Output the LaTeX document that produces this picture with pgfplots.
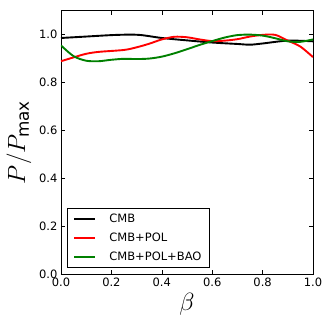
\documentclass[border=0pt]{standalone}
\usepackage{pgfplots}
\pgfplotsset{compat=1.18}
\usepackage{fontspec}
\setmainfont{DejaVu Sans}
\definecolor{mplgreen}{RGB}{0,128,0}
\definecolor{mplred}{RGB}{255,0,0}
\begin{document}
\begin{tikzpicture}
\path[use as bounding box] (-61pt,-58pt) rectangle (271pt,274pt);
\begin{axis}[
  scale only axis,
  width=252pt, height=263.3pt,
  xmin=0, xmax=1, ymin=0, ymax=1.1,
  xtick={0,0.2,...,1.0}, ytick={0,0.2,...,1.0},
  tick align=inside,
  major tick length=4pt,
  tick style={black, line width=0.5pt},
  minor tick num=0,
  axis line style={black, line width=0.8pt},
  xticklabel style={font=\fontsize{11.5}{13}\selectfont},
  yticklabel style={font=\fontsize{11.5}{13}\selectfont},
  /pgf/number format/assume math mode=true,
  /pgf/number format/.cd, fixed, fixed zerofill, precision=1, /pgfplots/.cd,
  xlabel={\fontsize{23}{25}\selectfont $\beta$},
  ylabel={\fontsize{24}{26}\selectfont $P/P_{\max}$},
  xlabel style={yshift=0pt},
  ylabel style={yshift=1pt},
  legend style={at={(0.025,0.025)}, anchor=south west, font=\fontsize{11.5}{13}\selectfont, row sep=4.8pt, inner xsep=6pt, inner ysep=3.5pt},
  legend cell align=left,
]
\addlegendimage{black, line width=2pt, legend image code/.code={\draw[black, line width=2pt] (0cm,0cm) -- (0.72cm,0cm);}}
\addlegendentry{\hspace{0.4cm}CMB}
\addlegendimage{mplred, line width=2pt, legend image code/.code={\draw[mplred, line width=2pt] (0cm,0cm) -- (0.72cm,0cm);}}
\addlegendentry{\hspace{0.4cm}CMB+POL}
\addlegendimage{mplgreen, line width=2pt, legend image code/.code={\draw[mplgreen, line width=2pt] (0cm,0cm) -- (0.72cm,0cm);}}
\addlegendentry{\hspace{0.4cm}CMB+POL+BAO}
\addplot[black, line width=1.9pt, smooth, forget plot] coordinates {
(0,0.986) (0.1,0.992) (0.2,0.998) (0.27,1.0) (0.32,0.998) (0.4,0.986) (0.5,0.976) (0.6,0.967) (0.7,0.961) (0.75,0.958) (0.8,0.963) (0.9,0.975) (1.0,0.972)};
\addplot[mplred, line width=1.9pt, smooth, forget plot] coordinates {
(0,0.889) (0.05,0.905) (0.1,0.92) (0.15,0.928) (0.25,0.936) (0.3,0.947) (0.35,0.962) (0.4,0.980) (0.45,0.991) (0.5,0.989) (0.55,0.980) (0.6,0.973) (0.65,0.975) (0.7,0.981) (0.75,0.992) (0.8,0.999) (0.85,0.999) (0.9,0.975) (0.95,0.95) (1.0,0.906)};
\addplot[mplgreen, line width=1.9pt, smooth, forget plot] coordinates {
(0,0.955) (0.05,0.910) (0.1,0.891) (0.15,0.889) (0.2,0.895) (0.25,0.899) (0.3,0.898) (0.35,0.900) (0.4,0.908) (0.45,0.922) (0.5,0.939) (0.55,0.957) (0.6,0.973) (0.65,0.988) (0.7,0.998) (0.75,1.0) (0.8,0.996) (0.85,0.985) (0.9,0.972) (0.95,0.970) (1.0,0.980)};
\end{axis}
\end{tikzpicture}
\end{document}
